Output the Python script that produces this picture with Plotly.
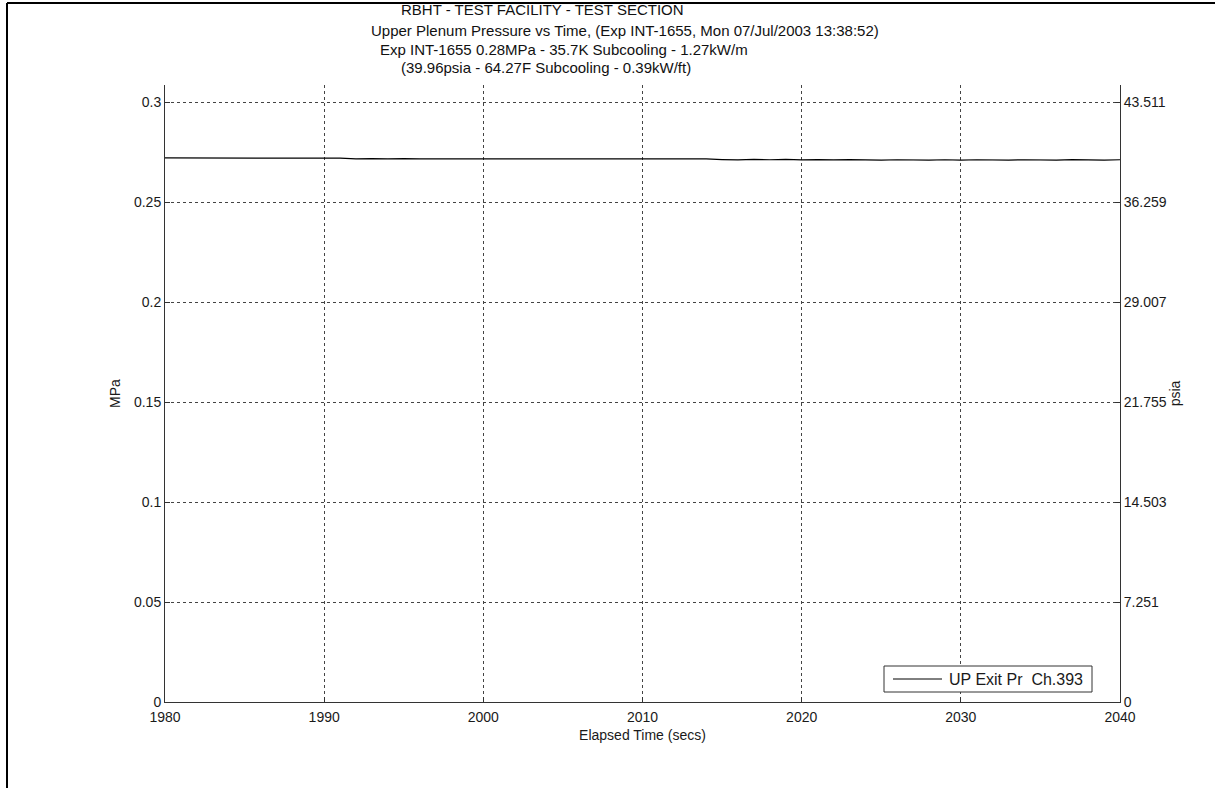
import plotly.graph_objects as go

# Upper plenum exit pressure, channel 393 (MPa), sampled once per second
time_s = list(range(1980, 2041))
pressure_mpa = [
    0.2723, 0.2723, 0.2723, 0.2723, 0.2723, 0.2723, 0.2723, 0.2723, 0.2723, 0.2723,
    0.2723, 0.2722, 0.2718, 0.2720, 0.2718, 0.2720, 0.2718, 0.2718, 0.2718, 0.2721,
    0.2718, 0.2718, 0.2718, 0.2718, 0.2718, 0.2718, 0.2718, 0.2718, 0.2718, 0.2718,
    0.2718, 0.2718, 0.2718, 0.2718, 0.2718, 0.2715, 0.2713, 0.2716, 0.2714, 0.2716,
    0.2713, 0.2715, 0.2713, 0.2715, 0.2713, 0.2712, 0.2714, 0.2712, 0.2712, 0.2714,
    0.2712, 0.2714, 0.2712, 0.2712, 0.2714, 0.2712, 0.2712, 0.2715, 0.2713, 0.2712,
    0.2714,
]
series_name = "UP Exit Pr  Ch.393"

mpa_ticks = [0, 0.05, 0.1, 0.15, 0.2, 0.25, 0.3]
mpa_labels = ["0", "0.05", "0.1", "0.15", "0.2", "0.25", "0.3"]
psia_labels = ["0", "7.251", "14.503", "21.755", "29.007", "36.259", "43.511"]
time_ticks = [1980, 1990, 2000, 2010, 2020, 2030, 2040]

title_lines = [
    "RBHT - TEST FACILITY - TEST SECTION",
    "Upper Plenum Pressure vs Time, (Exp INT-1655, Mon 07/Jul/2003 13:38:52)",
    "Exp INT-1655 0.28MPa - 35.7K Subcooling - 1.27kW/m",
    "(39.96psia - 64.27F Subcooling - 0.39kW/ft)",
]

W, H = 1215, 788
L, R, T, B = 165, 95, 85, 86
pw, ph = W - L - R, H - T - B


def px_x(x):
    return (x - L) / pw


def px_y(y):
    return (H - B - y) / ph


FONT = "Liberation Sans, Arial, sans-serif"
INK = "#1a1a1a"
y_range = [0, 0.3088]

fig = go.Figure()
fig.add_trace(go.Scatter(
    x=time_s, y=pressure_mpa, mode="lines", name=series_name,
    line=dict(color="black", width=1.2), showlegend=False,
))
# carrier trace for the psia axis
fig.add_trace(go.Scatter(
    x=[time_s[0]], y=[pressure_mpa[0]], yaxis="y2", mode="lines",
    showlegend=False, hoverinfo="skip", line=dict(color="rgba(0,0,0,0)"),
))

axis_common = dict(
    showline=True, linecolor="#333333", linewidth=1,
    ticks="inside", ticklen=5, tickcolor="#333333",
    tickfont=dict(family=FONT, size=14, color=INK),
    zeroline=False,
)

fig.update_layout(
    width=W, height=H,
    margin=dict(l=L, r=R, t=T, b=B),
    paper_bgcolor="white", plot_bgcolor="white",
    font=dict(family=FONT, size=14, color=INK),
    showlegend=False,
    xaxis=dict(
        range=[1980, 2040], tickvals=time_ticks,
        showgrid=True, gridcolor="#444444", griddash="3px,3px", gridwidth=1,
        ticklabelstandoff=2,
        title=dict(text="Elapsed Time (secs)", font=dict(family=FONT, size=14), standoff=6),
        mirror=False, **axis_common,
    ),
    yaxis=dict(
        range=y_range, tickvals=mpa_ticks, ticktext=mpa_labels,
        showgrid=True, gridcolor="#444444", griddash="3px,3px", gridwidth=1,
        title=dict(text="MPa", font=dict(family=FONT, size=14), standoff=10),
        **axis_common,
    ),
    yaxis2=dict(
        range=y_range, tickvals=mpa_ticks, ticktext=psia_labels,
        overlaying="y", side="right", showgrid=False,
        title=dict(text="psia", font=dict(family=FONT, size=14), standoff=0),
        **axis_common,
    ),
)

# title block, one annotation per line
title_left = [399, 369, 378, 399]
title_y = [10, 30, 49, 68]
for text, xl, yc in zip(title_lines, title_left, title_y):
    fig.add_annotation(
        text=text, xref="paper", yref="paper", x=px_x(xl), y=px_y(yc),
        xanchor="left", yanchor="middle", showarrow=False,
        font=dict(family=FONT, size=15, color="#111111"),
    )

# legend box drawn in the lower right corner of the axes
lx0, lx1, ly0, ly1 = 884, 1092, 666, 692
fig.add_shape(type="rect", xref="paper", yref="paper",
              x0=px_x(lx0), x1=px_x(lx1), y0=px_y(ly1), y1=px_y(ly0),
              line=dict(color="#333333", width=1), fillcolor="white", layer="above")
fig.add_shape(type="line", xref="paper", yref="paper",
              x0=px_x(893), x1=px_x(942), y0=px_y(679), y1=px_y(679),
              line=dict(color="black", width=1), layer="above")
fig.add_annotation(
    text=series_name, xref="paper", yref="paper", x=px_x(947), y=px_y(679),
    xanchor="left", yanchor="middle", showarrow=False,
    font=dict(family=FONT, size=16, color=INK),
)

# figure frame along the top and left edges
fig.add_shape(type="line", xref="paper", yref="paper",
              x0=px_x(7), x1=px_x(1220), y0=px_y(3), y1=px_y(3),
              line=dict(color="black", width=2))
fig.add_shape(type="line", xref="paper", yref="paper",
              x0=px_x(7), x1=px_x(7), y0=px_y(3), y1=px_y(795),
              line=dict(color="black", width=2))

fig.write_html("out.html")
